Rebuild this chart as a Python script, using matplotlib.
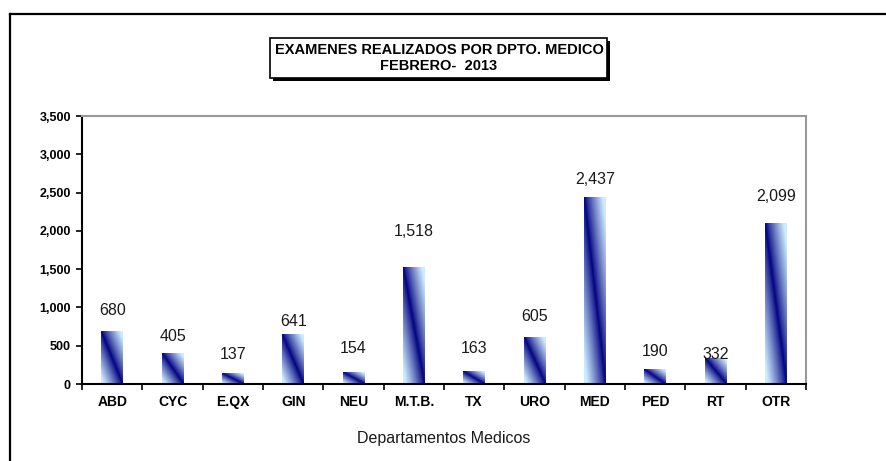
import numpy as np
import matplotlib
matplotlib.use("Agg")
import matplotlib.pyplot as plt
from matplotlib.patches import Rectangle
from matplotlib.lines import Line2D
from matplotlib.ticker import FuncFormatter, FixedLocator

plt.rcParams['font.family'] = ['Liberation Sans', 'DejaVu Sans']

# datos
departamentos = ['ABD', 'CYC', 'E.QX', 'GIN', 'NEU', 'M.T.B.', 'TX', 'URO',
                 'MED', 'PED', 'RT', 'OTR']
examenes = [680, 405, 137, 641, 154, 1518, 163, 605, 2437, 190, 332, 2099]
titulo = 'EXAMENES REALIZADOS POR DPTO. MEDICO\nFEBRERO-  2013'
eje_x = 'Departamentos Medicos'

# desplazamiento de las etiquetas (puntos)
desp = [10.4, 6.8, 8.3, 4, 11.9, 21, 11, 9.7, 7.6, 7.6, -2.5, 14]

fig = plt.figure(figsize=(8.86, 4.61), dpi=100)
ax = fig.add_axes([0.0926, 0.167, 0.8171, 0.581])

x = np.arange(len(departamentos))
barras = ax.bar(x, examenes, width=0.36, color='none', edgecolor='none')

# relleno degradado de cada barra
oscuro = np.array([0, 0, 128]) / 255
claro = np.array([205, 236, 255]) / 255
xx, yy = np.meshgrid(np.linspace(0, 1, 40), np.linspace(1, 0, 200))
t = np.clip(np.abs(xx + yy - 1) * 1.15, 0, 1) ** 0.85
img = oscuro + (claro - oscuro) * t[..., None]
for b in barras:
    ax.imshow(img, extent=[b.get_x(), b.get_x() + b.get_width(), 0, b.get_height()],
              aspect='auto', zorder=2, interpolation='bilinear')

for xi, v, d in zip(x, examenes, desp):
    ax.annotate(f'{v:,}', (xi, v), xytext=(0, d), textcoords='offset points',
                ha='center', va='bottom', fontsize=11.5, color='#1a1a1a')

ax.set_xlim(-0.5, len(departamentos) - 0.5)
ax.set_ylim(0, 3500)

ax.set_yticks(np.arange(0, 3501, 500))
ax.yaxis.set_major_formatter(FuncFormatter(lambda v, p: f'{int(v):,}'))
for lab in ax.get_yticklabels():
    lab.set_fontweight('bold')
    lab.set_fontsize(9)
ax.tick_params(axis='y', length=4, width=1.2, pad=4, direction='out')

ax.set_xticks(x)
ax.set_xticklabels(departamentos, fontsize=10, fontweight='bold')
ax.tick_params(axis='x', length=0, pad=8)
ax.xaxis.set_minor_locator(FixedLocator(np.arange(-0.5, len(departamentos), 1)))
ax.tick_params(axis='x', which='minor', length=4, width=1.2, direction='out')

ax.set_xlabel(eje_x, fontsize=11.5, labelpad=16, color='#1a1a1a')

ax.spines['left'].set_linewidth(1.5)
ax.spines['bottom'].set_linewidth(1.5)
ax.spines['top'].set_color('#999999')
ax.spines['right'].set_color('#999999')
ax.spines['top'].set_linewidth(1.5)
ax.spines['right'].set_linewidth(1.5)

# cuadro del titulo con sombra
W, H = 886, 461
def fx(px):
    return px / W
def fy(py):
    return 1 - py / H

fig.patches.append(Rectangle((fx(273), fy(81)), fx(337), 40 / H, transform=fig.transFigure,
                             facecolor='black', edgecolor='none', zorder=1))
fig.patches.append(Rectangle((fx(270), fy(78)), fx(337), 40 / H, transform=fig.transFigure,
                             facecolor='white', edgecolor='black', linewidth=1.2, zorder=2))
fig.text(fx(439), fy(58), titulo, ha='center', va='center', fontsize=10.5,
         fontweight='bold', linespacing=1.15, zorder=3)

# marco exterior
fig.add_artist(Line2D([fx(10), 1], [fy(14), fy(14)], transform=fig.transFigure,
                      color='black', linewidth=1.6))
fig.add_artist(Line2D([fx(10), fx(10)], [fy(14), 0], transform=fig.transFigure,
                      color='black', linewidth=1.6))

fig.savefig('out.png', dpi=100)
